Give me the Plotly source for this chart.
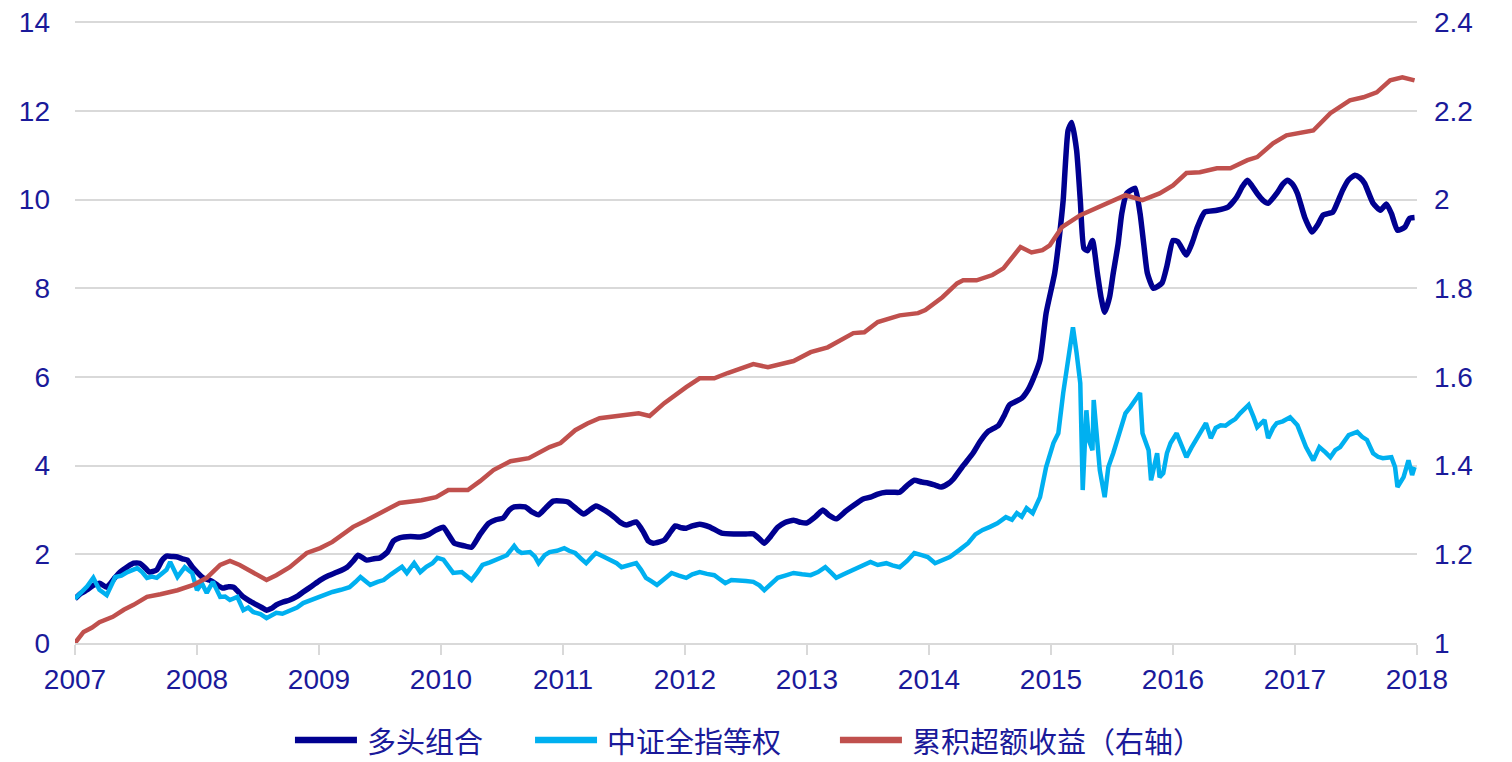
import plotly.graph_objects as go

years = list(range(2007, 2019))
year_labels = [str(y) for y in years]

left_ticks = [0, 2, 4, 6, 8, 10, 12, 14]
right_ticks = [1, 1.2, 1.4, 1.6, 1.8, 2, 2.2, 2.4]
right_tick_labels = ["1", "1.2", "1.4", "1.6", "1.8", "2", "2.2", "2.4"]

names = ["多头组合", "中证全指等权", "累积超额收益（右轴）"]

long_x = [2007.00, 2007.05, 2007.10, 2007.15, 2007.20, 2007.26, 2007.32, 2007.37, 2007.43, 2007.48,
          2007.53, 2007.58, 2007.61, 2007.67, 2007.71, 2007.75, 2007.80, 2007.84, 2007.88, 2007.92,
          2007.96, 2008.00, 2008.05, 2008.10, 2008.13, 2008.17, 2008.21, 2008.26, 2008.30, 2008.34,
          2008.38, 2008.43, 2008.49, 2008.53, 2008.57, 2008.61, 2008.65, 2008.70, 2008.76, 2008.82,
          2008.87, 2008.94, 2009.01, 2009.08, 2009.15, 2009.23, 2009.28, 2009.32, 2009.39, 2009.45,
          2009.50, 2009.56, 2009.61, 2009.66, 2009.75, 2009.83, 2009.90, 2009.96, 2010.02, 2010.06,
          2010.11, 2010.18, 2010.25, 2010.32, 2010.39, 2010.45, 2010.51, 2010.56, 2010.60, 2010.69,
          2010.75, 2010.80, 2010.86, 2010.92, 2011.00, 2011.04, 2011.10, 2011.17, 2011.22, 2011.27,
          2011.35, 2011.42, 2011.47, 2011.52, 2011.56, 2011.60, 2011.66, 2011.70, 2011.74, 2011.79,
          2011.83, 2011.88, 2011.92, 2011.97, 2012.01, 2012.06, 2012.12, 2012.20, 2012.30, 2012.40,
          2012.50, 2012.56, 2012.61, 2012.65, 2012.70, 2012.76, 2012.82, 2012.89, 2012.95, 2013.00,
          2013.07, 2013.13, 2013.18, 2013.24, 2013.32, 2013.41, 2013.46, 2013.52, 2013.58, 2013.65,
          2013.71, 2013.76, 2013.82, 2013.88, 2013.94, 2013.99, 2014.05, 2014.10, 2014.16, 2014.20,
          2014.28, 2014.36, 2014.42, 2014.48, 2014.57, 2014.62, 2014.66, 2014.76, 2014.81, 2014.85,
          2014.91, 2014.96, 2015.03, 2015.07, 2015.10, 2015.14, 2015.17, 2015.21, 2015.24, 2015.27,
          2015.30, 2015.34, 2015.38, 2015.41, 2015.44, 2015.48, 2015.51, 2015.55, 2015.58, 2015.62,
          2015.66, 2015.69, 2015.73, 2015.76, 2015.79, 2015.84, 2015.91, 2015.95, 2016.00, 2016.04,
          2016.11, 2016.16, 2016.20, 2016.26, 2016.36, 2016.45, 2016.52, 2016.57, 2016.61, 2016.65,
          2016.69, 2016.74, 2016.78, 2016.85, 2016.90, 2016.94, 2016.98, 2017.02, 2017.08, 2017.14,
          2017.19, 2017.23, 2017.31, 2017.35, 2017.39, 2017.44, 2017.49, 2017.53, 2017.57, 2017.64,
          2017.70, 2017.75, 2017.79, 2017.84, 2017.90, 2017.94, 2017.98]
long_y = [1.00, 1.12, 1.20, 1.30, 1.35, 1.26, 1.45, 1.60, 1.72, 1.80,
          1.80, 1.68, 1.60, 1.65, 1.85, 1.96, 1.95, 1.94, 1.90, 1.87,
          1.72, 1.60, 1.47, 1.42, 1.38, 1.30, 1.24, 1.27, 1.26, 1.15,
          1.04, 0.95, 0.86, 0.80, 0.74, 0.78, 0.86, 0.92, 0.97, 1.05,
          1.15, 1.28, 1.42, 1.52, 1.60, 1.71, 1.85, 1.98, 1.87, 1.90,
          1.92, 2.05, 2.30, 2.37, 2.40, 2.39, 2.45, 2.55, 2.61, 2.45,
          2.25, 2.20, 2.16, 2.45, 2.70, 2.78, 2.82, 3.00, 3.07, 3.07,
          2.95, 2.89, 3.05, 3.20, 3.20, 3.18, 3.05, 2.91, 3.00, 3.09,
          2.98, 2.84, 2.72, 2.66, 2.70, 2.73, 2.50, 2.30, 2.25, 2.28,
          2.32, 2.50, 2.64, 2.60, 2.59, 2.64, 2.68, 2.62, 2.48, 2.46,
          2.46, 2.46, 2.35, 2.25, 2.40, 2.61, 2.72, 2.77, 2.72, 2.71,
          2.85, 3.00, 2.88, 2.80, 2.98, 3.16, 3.25, 3.29, 3.36, 3.40,
          3.40, 3.40, 3.55, 3.67, 3.63, 3.61, 3.56, 3.52, 3.60, 3.70,
          4.00, 4.28, 4.55, 4.76, 4.91, 5.15, 5.37, 5.52, 5.70, 5.93,
          6.38, 7.44, 8.34, 9.20, 9.99, 11.56, 11.74, 11.11, 9.99, 8.90,
          8.85, 9.08, 8.34, 7.80, 7.46, 7.80, 8.34, 9.00, 9.69, 10.14,
          10.22, 10.26, 9.69, 9.00, 8.34, 8.00, 8.12, 8.50, 9.08, 9.05,
          8.75, 9.05, 9.38, 9.72, 9.76, 9.83, 10.05, 10.30, 10.44, 10.30,
          10.14, 9.98, 9.92, 10.14, 10.35, 10.44, 10.35, 10.14, 9.60, 9.27,
          9.45, 9.65, 9.72, 9.95, 10.21, 10.45, 10.55, 10.50, 10.37, 9.92,
          9.76, 9.90, 9.69, 9.31, 9.38, 9.58, 9.60]

index_x = [2007.00, 2007.05, 2007.10, 2007.15, 2007.20, 2007.26, 2007.33, 2007.38, 2007.43, 2007.51,
           2007.55, 2007.59, 2007.63, 2007.67, 2007.75, 2007.78, 2007.84, 2007.90, 2007.96, 2008.00,
           2008.04, 2008.08, 2008.13, 2008.19, 2008.23, 2008.27, 2008.33, 2008.38, 2008.42, 2008.46,
           2008.52, 2008.57, 2008.61, 2008.65, 2008.70, 2008.76, 2008.82, 2008.87, 2008.94, 2009.01,
           2009.06, 2009.11, 2009.18, 2009.25, 2009.30, 2009.34, 2009.38, 2009.42, 2009.48, 2009.53,
           2009.59, 2009.64, 2009.68, 2009.72, 2009.78, 2009.83, 2009.88, 2009.93, 2009.97, 2010.02,
           2010.06, 2010.10, 2010.17, 2010.21, 2010.25, 2010.30, 2010.34, 2010.40, 2010.45, 2010.50,
           2010.54, 2010.60, 2010.63, 2010.66, 2010.73, 2010.77, 2010.80, 2010.85, 2010.89, 2010.95,
           2011.01, 2011.05, 2011.10, 2011.15, 2011.19, 2011.23, 2011.27, 2011.33, 2011.39, 2011.44,
           2011.48, 2011.55, 2011.60, 2011.64, 2011.68, 2011.72, 2011.77, 2011.82, 2011.89, 2011.95,
           2012.01, 2012.06, 2012.12, 2012.18, 2012.24, 2012.28, 2012.33, 2012.38, 2012.44, 2012.50,
           2012.56, 2012.61, 2012.65, 2012.70, 2012.76, 2012.82, 2012.89, 2012.96, 2013.03, 2013.09,
           2013.15, 2013.20, 2013.24, 2013.30, 2013.38, 2013.45, 2013.52, 2013.58, 2013.65, 2013.70,
           2013.76, 2013.82, 2013.88, 2013.94, 2013.99, 2014.05, 2014.11, 2014.17, 2014.25, 2014.32,
           2014.38, 2014.44, 2014.50, 2014.56, 2014.63, 2014.68, 2014.72, 2014.76, 2014.80, 2014.85,
           2014.91, 2014.96, 2015.02, 2015.06, 2015.10, 2015.14, 2015.18, 2015.21, 2015.24, 2015.26,
           2015.29, 2015.31, 2015.34, 2015.35, 2015.38, 2015.40, 2015.44, 2015.47, 2015.51, 2015.57,
           2015.61, 2015.65, 2015.70, 2015.73, 2015.75, 2015.80, 2015.82, 2015.87, 2015.89, 2015.92,
           2015.95, 2015.98, 2016.03, 2016.07, 2016.11, 2016.15, 2016.19, 2016.23, 2016.27, 2016.31,
           2016.35, 2016.39, 2016.43, 2016.47, 2016.51, 2016.55, 2016.62, 2016.66, 2016.69, 2016.75,
           2016.78, 2016.82, 2016.85, 2016.90, 2016.96, 2017.02, 2017.06, 2017.09, 2017.15, 2017.20,
           2017.25, 2017.29, 2017.33, 2017.37, 2017.44, 2017.51, 2017.55, 2017.59, 2017.64, 2017.68,
           2017.72, 2017.79, 2017.82, 2017.84, 2017.89, 2017.93, 2017.96, 2017.98]
index_y = [1.00, 1.15, 1.28, 1.47, 1.20, 1.08, 1.49, 1.52, 1.60, 1.69,
           1.60, 1.47, 1.50, 1.47, 1.65, 1.83, 1.49, 1.71, 1.58, 1.19,
           1.35, 1.13, 1.38, 1.04, 1.05, 0.97, 1.04, 0.74, 0.80, 0.70,
           0.65, 0.56, 0.62, 0.68, 0.66, 0.74, 0.80, 0.90, 0.98, 1.04,
           1.10, 1.15, 1.20, 1.26, 1.38, 1.49, 1.40, 1.31, 1.38, 1.42,
           1.55, 1.65, 1.72, 1.58, 1.80, 1.60, 1.72, 1.80, 1.92, 1.88,
           1.71, 1.58, 1.60, 1.50, 1.42, 1.60, 1.76, 1.82, 1.87, 1.92,
           1.98, 2.19, 2.08, 2.03, 2.05, 1.95, 1.80, 1.98, 2.05, 2.08,
           2.14, 2.08, 2.03, 1.90, 1.80, 1.92, 2.03, 1.95, 1.87, 1.80,
           1.71, 1.76, 1.80, 1.65, 1.47, 1.40, 1.31, 1.42, 1.58, 1.52,
           1.47, 1.55, 1.60, 1.56, 1.53, 1.45, 1.35, 1.42, 1.42, 1.40,
           1.38, 1.30, 1.19, 1.32, 1.47, 1.52, 1.58, 1.55, 1.53, 1.60,
           1.71, 1.58, 1.47, 1.55, 1.65, 1.72, 1.83, 1.76, 1.80, 1.75,
           1.71, 1.85, 2.03, 1.98, 1.94, 1.80, 1.88, 1.94, 2.10, 2.25,
           2.45, 2.55, 2.62, 2.70, 2.84, 2.78, 2.93, 2.85, 3.04, 2.93,
           3.29, 3.97, 4.51, 4.73, 5.64, 6.38, 7.12, 6.54, 5.86, 3.45,
           5.25, 4.58, 4.35, 5.48, 4.35, 3.90, 3.29, 3.97, 4.28, 4.80,
           5.18, 5.32, 5.55, 5.64, 4.73, 4.35, 3.67, 4.28, 3.74, 3.83,
           4.28, 4.51, 4.73, 4.45, 4.19, 4.40, 4.58, 4.75, 4.96, 4.62,
           4.85, 4.91, 4.90, 4.98, 5.05, 5.18, 5.37, 5.10, 4.87, 5.03,
           4.62, 4.85, 4.96, 5.00, 5.09, 4.91, 4.65, 4.42, 4.12, 4.42,
           4.30, 4.19, 4.35, 4.42, 4.69, 4.76, 4.65, 4.58, 4.28, 4.20,
           4.17, 4.19, 3.97, 3.52, 3.74, 4.12, 3.79, 3.97]

excess_x = [2007.00, 2007.07, 2007.14, 2007.20, 2007.31, 2007.40, 2007.48, 2007.59, 2007.70, 2007.84,
            2007.97, 2008.08, 2008.19, 2008.27, 2008.35, 2008.46, 2008.57, 2008.65, 2008.76, 2008.90,
            2009.01, 2009.11, 2009.20, 2009.28, 2009.39, 2009.50, 2009.66, 2009.84, 2009.96, 2010.06,
            2010.22, 2010.32, 2010.43, 2010.57, 2010.72, 2010.89, 2010.98, 2011.10, 2011.20, 2011.30,
            2011.51, 2011.62, 2011.71, 2011.83, 2012.01, 2012.12, 2012.24, 2012.35, 2012.56, 2012.68,
            2012.89, 2013.03, 2013.17, 2013.38, 2013.47, 2013.58, 2013.76, 2013.91, 2013.97, 2014.11,
            2014.23, 2014.28, 2014.39, 2014.52, 2014.61, 2014.68, 2014.75, 2014.84, 2014.93, 2014.99,
            2015.09, 2015.24, 2015.38, 2015.51, 2015.61, 2015.75, 2015.89, 2016.00, 2016.11, 2016.22,
            2016.36, 2016.47, 2016.61, 2016.69, 2016.82, 2016.93, 2017.04, 2017.15, 2017.29, 2017.45,
            2017.56, 2017.67, 2017.78, 2017.88, 2017.98]
excess_y = [1.000, 1.025, 1.035, 1.047, 1.059, 1.075, 1.086, 1.104, 1.110, 1.119,
            1.131, 1.147, 1.176, 1.185, 1.176, 1.158, 1.142, 1.153, 1.171, 1.203,
            1.214, 1.228, 1.245, 1.262, 1.277, 1.292, 1.316, 1.322, 1.329, 1.345,
            1.345, 1.365, 1.390, 1.410, 1.417, 1.442, 1.451, 1.480, 1.495, 1.507,
            1.514, 1.518, 1.512, 1.541, 1.577, 1.597, 1.597, 1.609, 1.629, 1.622,
            1.636, 1.656, 1.667, 1.699, 1.701, 1.724, 1.739, 1.744, 1.751, 1.780,
            1.811, 1.818, 1.818, 1.830, 1.845, 1.870, 1.893, 1.881, 1.886, 1.897,
            1.938, 1.965, 1.983, 1.999, 2.010, 1.999, 2.014, 2.032, 2.060, 2.062,
            2.071, 2.071, 2.089, 2.096, 2.127, 2.145, 2.150, 2.156, 2.195, 2.224,
            2.231, 2.242, 2.269, 2.276, 2.269]

NAVY = "#000090"
CYAN = "#00B0F0"
RED = "#C0504D"
TXT = "#1A1A9A"
GRID = "#D9D9D9"
colors = [NAVY, CYAN, RED]

fig = go.Figure()
fig.add_trace(go.Scatter(x=long_x, y=long_y, name=names[0], mode="lines",
                         line=dict(color=NAVY, width=5.5, shape="spline", smoothing=0.5)))
fig.add_trace(go.Scatter(x=index_x, y=index_y, name=names[1], mode="lines",
                         line=dict(color=CYAN, width=4.5)))
fig.add_trace(go.Scatter(x=excess_x, y=excess_y, name=names[2], mode="lines",
                         line=dict(color=RED, width=4.5), yaxis="y2"))

# legend drawn below the plot (paper coordinates): sample line + label per series
leg_y = -0.156
leg_line_x = [(0.1639, 0.2101), (0.3428, 0.3890), (0.5700, 0.6162)]
for (x0, x1), nm, col in zip(leg_line_x, names, colors):
    fig.add_shape(type="line", xref="paper", yref="paper", x0=x0, x1=x1, y0=leg_y, y1=leg_y,
                  line=dict(color=col, width=6.5))
    fig.add_annotation(xref="paper", yref="paper", x=x1 + 0.006, y=leg_y, text=nm,
                       showarrow=False, xanchor="left", yanchor="middle",
                       font=dict(family="Noto Sans CJK SC", size=29, color=TXT))

# ranges are padded by a hair so the top gridline (14 / 2.4) is still drawn
fig.update_layout(
    width=1512, height=762,
    paper_bgcolor="white", plot_bgcolor="white",
    margin=dict(l=75, r=95, t=21, b=119, autoexpand=False),
    font=dict(family="Liberation Sans, Arial, sans-serif", color=TXT, size=28),
    showlegend=False,
    xaxis=dict(range=[2007, 2018], tickvals=years, ticktext=year_labels, automargin=False,
               showgrid=False, zeroline=False, showline=True, linecolor=GRID, linewidth=2,
               ticks="outside", ticklen=10, tickcolor=GRID, tickwidth=2,
               ticklabeloverflow="allow", tickfont=dict(size=28, color=TXT)),
    yaxis=dict(range=[0, 14.03], tickvals=left_ticks, showgrid=True, gridcolor=GRID, gridwidth=2,
               zeroline=False, showline=False, ticks="", ticklabelstandoff=24, automargin=False,
               ticklabeloverflow="allow", tickfont=dict(size=28, color=TXT)),
    yaxis2=dict(range=[1, 1 + 1.4 * 14.03 / 14], tickvals=right_ticks, ticktext=right_tick_labels,
                overlaying="y", side="right", showgrid=False, zeroline=False, automargin=False,
                showline=False, ticks="", ticklabelstandoff=16,
                ticklabeloverflow="allow", tickfont=dict(size=28, color=TXT)),
)

# remove the default 8px page margin so the figure fills the window exactly
fig.write_html("out.html", post_script="document.body.style.margin='0';",
               config={"displayModeBar": False})
